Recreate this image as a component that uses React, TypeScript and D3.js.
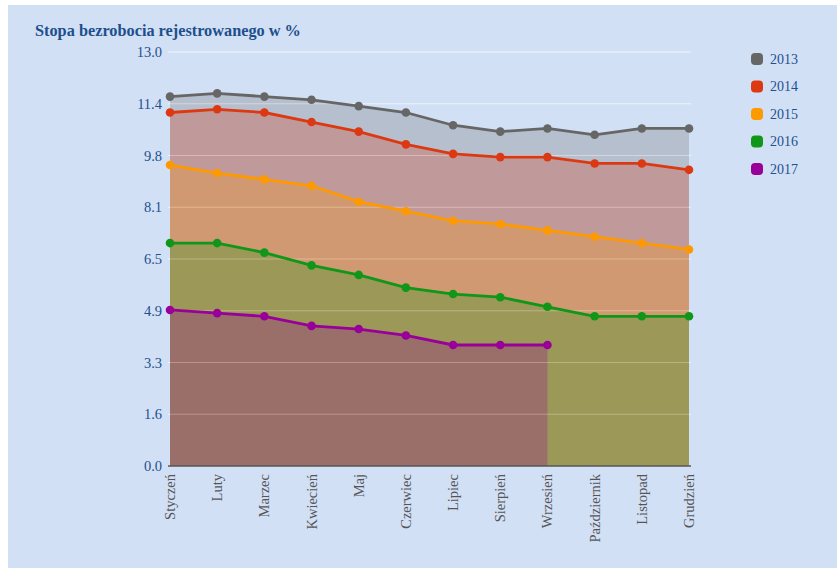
import React from "react";
import * as d3 from "d3";

const months = ["Styczeń", "Luty", "Marzec", "Kwiecień", "Maj", "Czerwiec", "Lipiec", "Sierpień", "Wrzesień", "Październik", "Listopad", "Grudzień"];
const years = ["2013", "2014", "2015", "2016", "2017"];
const v2013 = [11.6, 11.7, 11.6, 11.5, 11.3, 11.1, 10.7, 10.5, 10.6, 10.4, 10.6, 10.6];
const v2014 = [11.1, 11.2, 11.1, 10.8, 10.5, 10.1, 9.8, 9.7, 9.7, 9.5, 9.5, 9.3];
const v2015 = [9.45, 9.2, 9.0, 8.8, 8.3, 8.0, 7.7, 7.6, 7.4, 7.2, 7.0, 6.8];
const v2016 = [7.0, 7.0, 6.7, 6.3, 6.0, 5.6, 5.4, 5.3, 5.0, 4.7, 4.7, 4.7];
const v2017: (number | null)[] = [4.9, 4.8, 4.7, 4.4, 4.3, 4.1, 3.8, 3.8, 3.8, null, null, null];
const yTicks = [0, 1.625, 3.25, 4.875, 6.5, 8.125, 9.75, 11.375, 13];
const colors = ["#666666", "#dc3912", "#ff9900", "#109618", "#990099"];

const seriesList = [v2013, v2014, v2015, v2016, v2017];

export default function App() {
  const W = 837, H = 568;
  const left = 170, right = 689, top = 52, bottom = 466;
  const x = d3.scalePoint<string>().domain(months).range([left, right]);
  const y = d3.scaleLinear().domain([0, 13]).range([bottom, top]);
  const fmt = d3.format(".1f");
  const serif = "'Liberation Serif', 'Times New Roman', serif";
  const blue = "#23508f";

  const area = d3.area<number | null>()
    .defined((d) => d != null)
    .x((_, i) => x(months[i]) as number)
    .y0(y(0))
    .y1((d) => y(d as number));
  const line = d3.line<number | null>()
    .defined((d) => d != null)
    .x((_, i) => x(months[i]) as number)
    .y((d) => y(d as number));

  return (
    <svg width={W} height={H} style={{ position: "absolute", left: 0, top: 0, background: "#ffffff" }}>
      <rect x={8} y={5} width={W - 8} height={H - 5} fill="#d2e0f5" />
      <text x={35} y={36} fontFamily={serif} fontWeight="bold" fontSize={16.3} fill="#1d4f8c">
        Stopa bezrobocia rejestrowanego w %
      </text>
      {yTicks.map((t) => (
        <g key={t}>
          <line x1={left - 2} x2={right + 2} y1={y(t)} y2={y(t)} stroke="#e6eef8" strokeWidth={1} />
          <text x={162} y={y(t)} dy="0.35em" textAnchor="end" fontFamily={serif} fontSize={14.5} fill={blue}>
            {fmt(t)}
          </text>
        </g>
      ))}
      {seriesList.map((s, i) => (
        <path key={"a" + i} d={area(s) || ""} fill={colors[i]} fillOpacity={0.27} stroke="none" />
      ))}
      {yTicks.slice(1).map((t) => (
        <line key={"g" + t} x1={left - 2} x2={right + 2} y1={y(t)} y2={y(t)} stroke="#ffffff" strokeOpacity={0.25} strokeWidth={1} />
      ))}
      <line x1={left - 2} x2={right + 2} y1={y(0)} y2={y(0)} stroke="#555555" strokeWidth={1.5} />
      {seriesList.map((s, i) => (
        <g key={"l" + i}>
          <path d={line(s) || ""} fill="none" stroke={colors[i]} strokeWidth={2.8} />
          {s.map((d, j) =>
            d == null ? null : (
              <circle key={j} cx={x(months[j])} cy={y(d)} r={4.3} fill={colors[i]} />
            )
          )}
        </g>
      ))}
      {months.map((m) => (
        <text
          key={m}
          transform={`translate(${(x(m) as number) + 5},${bottom + 8}) rotate(-90)`}
          textAnchor="end"
          fontFamily={serif}
          fontSize={14.5}
          fill="#555555"
        >
          {m}
        </text>
      ))}
      {years.map((yr, i) => (
        <g key={yr} transform={`translate(757,${59 + i * 27.5})`}>
          <rect x={-6} y={-6} width={12} height={12} rx={4} fill={colors[i]} />
          <text x={13} dy="0.35em" fontFamily={serif} fontSize={14} fill={blue}>
            {yr}
          </text>
        </g>
      ))}
    </svg>
  );
}
